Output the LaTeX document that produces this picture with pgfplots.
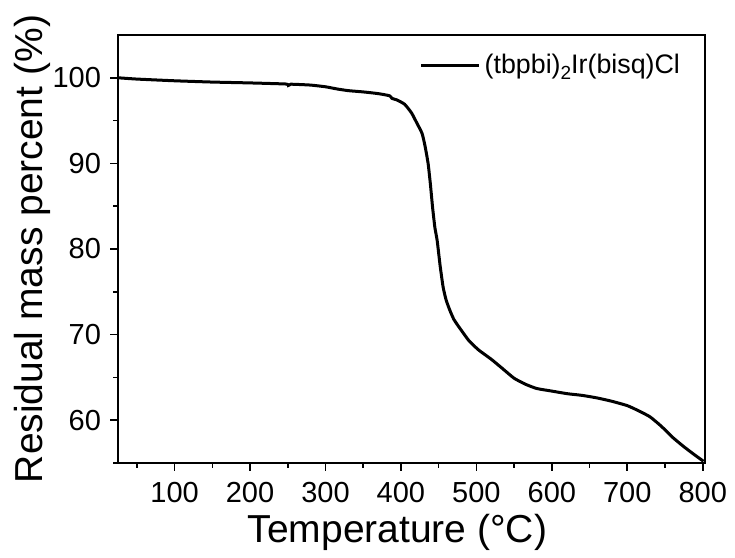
\documentclass[border=0pt]{standalone}
\usepackage{fontspec}
\setmainfont{Liberation Sans}
\usepackage{pgfplots}
\pgfplotsset{compat=1.18}
\begin{document}
\begin{tikzpicture}
\begin{axis}[
  scale only axis,
  width=293.5pt, height=214pt,
  xmin=25, xmax=803, ymin=55, ymax=105,
  xtick={100,200,...,800}, minor xtick={50,150,...,750},
  ytick={60,70,80,90,100}, minor ytick={55,65,75,85,95},
  tick align=outside,
  xtick pos=bottom, ytick pos=left,
  major tick length=4pt, minor tick length=2.5pt,
  every tick/.style={black, line width=0.8pt},
  axis line style={line width=1pt},
  /pgf/number format/assume math mode=true,
  tick label style={font=\fontsize{14.5}{16}\selectfont},
  xticklabel style={yshift=-2pt},
  yticklabel style={xshift=-1pt},
  xlabel={Temperature (°C)},
  ylabel={Residual mass percent (\%)},
  label style={font=\fontsize{19.5}{22}\selectfont},
  xlabel style={at={(axis description cs:0.476,0)}, anchor=base, yshift=-40pt},
  ylabel style={at={(axis description cs:-0.128,0.5)}, anchor=base, rotate=0},
  legend style={at={(axis description cs:0.975,0.975)}, anchor=north east, draw=none, fill=none,
    font=\fontsize{13.4}{16}\selectfont},
  legend image code/.code={\draw[#1] (0pt,0pt) -- (29pt,0pt);},
  legend cell align=left,
]
\addplot[black, line width=1.5pt, smooth, tension=0.3] coordinates {
(25,100.0) (50,99.85) (100,99.65) (150,99.5) (200,99.4) (248,99.27) (251,99.12) (254,99.25)
(280,99.15) (300,98.95) (315,98.7) (330,98.5) (350,98.35) (370,98.15) (385,97.9) (388,97.6)
(395,97.4) (405,96.9) (414,95.9) (420,94.9) (428,93.5) (432,92.0) (436,90.0) (439,87.6)
(442,84.8) (445,82.5) (448,81.0) (452,78.0) (456,75.5) (460,74.0) (465,72.8) (470,71.8)
(476,71.0) (490,69.3) (503,68.2) (520,67.1) (535,66.0) (550,64.9) (565,64.2) (580,63.7)
(600,63.4) (620,63.1) (640,62.9) (660,62.6) (680,62.2) (700,61.7) (715,61.1) (730,60.4)
(745,59.3) (760,58.0) (775,56.9) (790,55.9) (801,55.2)
};
\addlegendentry{(tbpbi)\raisebox{-3pt}{\fontsize{9.5}{10}\selectfont 2}Ir(bisq)Cl}
\end{axis}
\path ([xshift=-59pt,yshift=-43pt]current axis.south west) rectangle ([xshift=15pt,yshift=17.5pt]current axis.north east);
\end{tikzpicture}
\end{document}
